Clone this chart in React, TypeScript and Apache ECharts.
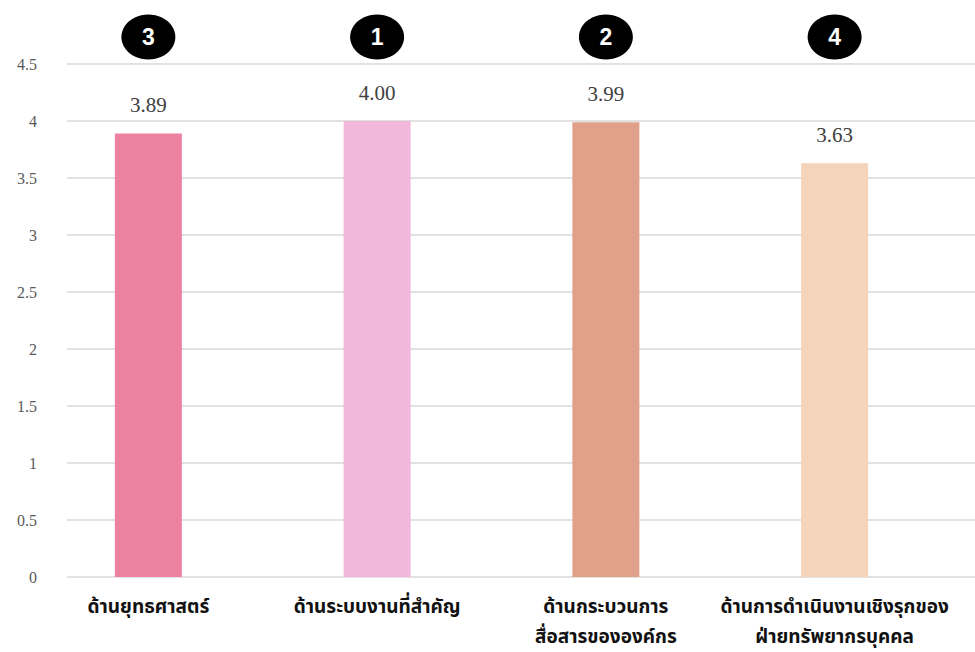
import React, { useEffect, useRef } from "react";
import * as echarts from "echarts";

const categories = [
  "ด้านยุทธศาสตร์",
  "ด้านระบบงานที่สำคัญ",
  "ด้านกระบวนการ\nสื่อสารขององค์กร",
  "ด้านการดำเนินงานเชิงรุกของ\nฝ่ายทรัพยากรบุคคล",
];
const scores = [3.89, 4.0, 3.99, 3.63];
const ranks = [3, 1, 2, 4];
const barColors = ["#EC82A0", "#F2B8DC", "#E1A08A", "#F4D4BA"];
const yTicks = [0, 0.5, 1, 1.5, 2, 2.5, 3, 3.5, 4, 4.5];

const W = 975;
const H = 652;

export default function App() {
  const ref = useRef<HTMLDivElement>(null);
  useEffect(() => {
    if (!ref.current) return;
    const chart = echarts.init(ref.current, undefined, { renderer: "svg" });
    const yMin = yTicks[0];
    const yMax = yTicks[yTicks.length - 1];
    const serif = "Liberation Serif";
    const thai = "Noto Sans Thai, Noto Sans, DejaVu Sans, sans-serif";
    chart.setOption({
      animation: false,
      backgroundColor: "#ffffff",
      grid: [
        { left: 67, right: 0, top: 64, bottom: 75 },
        { left: 34, width: 915, top: 64, bottom: 75 },
        { left: 34, width: 915, top: 14, height: 46 },
      ],
      xAxis: [
        { gridIndex: 0, type: "value", show: false, min: 0, max: 1 },
        {
          gridIndex: 1,
          type: "category",
          data: categories,
          axisLine: { show: false },
          axisTick: { show: false },
          axisLabel: {
            interval: 0,
            margin: 15,
            color: "#111111",
            fontFamily: thai,
            fontWeight: "bold",
            fontSize: 19,
            lineHeight: 30,
          },
        },
        { gridIndex: 2, type: "category", data: categories, show: false },
      ],
      yAxis: [
        {
          gridIndex: 0,
          type: "value",
          min: yMin,
          max: yMax,
          interval: 0.5,
          axisLine: { show: false },
          axisTick: { show: false },
          axisLabel: {
            margin: 30,
            color: "#595959",
            fontFamily: serif,
            fontSize: 16,
          },
          splitLine: { show: true, lineStyle: { color: "#D9D9D9", width: 1.5 } },
        },
        { gridIndex: 1, type: "value", min: yMin, max: yMax, show: false },
        { gridIndex: 2, type: "value", min: 0, max: 1, show: false },
      ],
      series: [
        {
          type: "bar",
          xAxisIndex: 1,
          yAxisIndex: 1,
          barWidth: 67,
          data: scores.map((v, i) => ({ value: v, itemStyle: { color: barColors[i] } })),
          label: {
            show: true,
            position: "top",
            distance: 18,
            color: "#404040",
            fontFamily: serif,
            fontSize: 21,
            formatter: (p: any) => Number(p.value).toFixed(2),
          },
        },
        {
          type: "scatter",
          xAxisIndex: 2,
          yAxisIndex: 2,
          symbol: "circle",
          symbolSize: [54, 45],
          itemStyle: { color: "#000000", opacity: 1 },
          data: ranks.map(() => 0.5),
          label: {
            show: true,
            position: "inside",
            color: "#ffffff",
            fontFamily: "Liberation Sans, Arial, sans-serif",
            fontWeight: "bold",
            fontSize: 23,
            formatter: (p: any) => String(ranks[p.dataIndex]),
          },
        },
      ],
    });
    return () => chart.dispose();
  }, []);
  return (
    <div
      ref={ref}
      style={{ position: "fixed", left: 0, top: 0, width: W, height: H }}
    />
  );
}
